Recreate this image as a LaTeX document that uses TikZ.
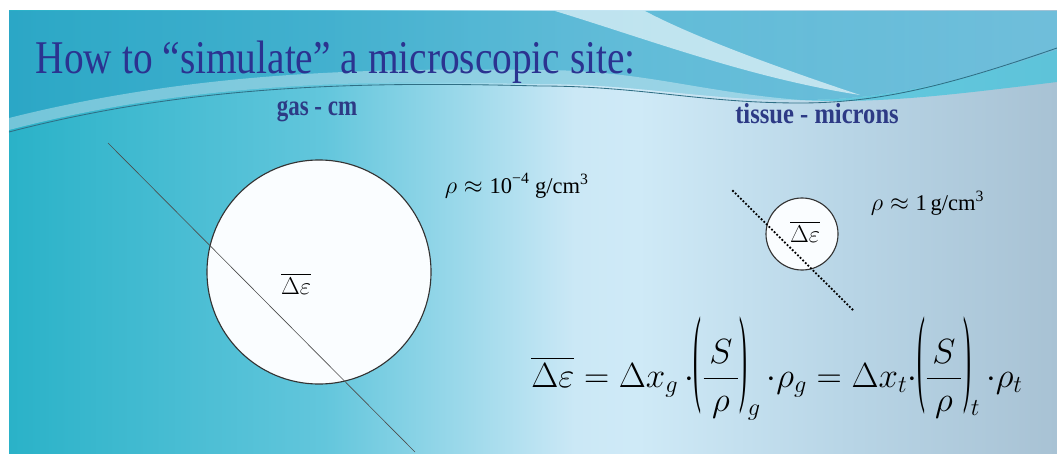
\documentclass[tikz,border=0pt]{standalone}
\usepackage{fontspec}
\usepackage{amsmath}
\setmainfont{Liberation Serif}
\usetikzlibrary{positioning}
\definecolor{titleblue}{HTML}{2B3390}
\definecolor{lblblue}{HTML}{2D3A85}
\definecolor{bgA}{HTML}{2AB2C8}
\definecolor{bgB}{HTML}{62C6DC}
\definecolor{bgC}{HTML}{CBE8F6}
\definecolor{bgD}{HTML}{CFEAF7}
\definecolor{bgE}{HTML}{B8D5E6}
\definecolor{bgF}{HTML}{A8C2D4}
\definecolor{topL}{HTML}{2CA6C6}
\definecolor{topR}{HTML}{66BEDC}
\definecolor{swcyan}{HTML}{3FC4DC}
\definecolor{swline}{HTML}{2F6F85}
\pgfdeclarehorizontalshading{slidebg}{100bp}{color(0bp)=(bgA); color(25bp)=(bgA);
  color(40bp)=(bgB); color(52bp)=(bgC); color(55bp)=(bgD); color(65bp)=(bgE);
  color(75bp)=(bgF); color(100bp)=(bgF)}
\newcommand{\dEps}{\overline{\Delta\varepsilon}}
\newcommand{\tparen}[1]{\raisebox{-0.14em}{\scalebox{0.7}[3.2]{#1}}}
\tikzset{
  site/.style={circle, draw=black!80, fill=white!98!cyan, inner sep=0pt, line width=0.8pt},
  lbl/.style={font=\bfseries\fontsize{19}{22}\selectfont, text=lblblue, xscale=0.86, yscale=1.08},
  dens/.style={font=\fontsize{16}{19}\selectfont, anchor=base west}
}
\begin{document}
\begin{tikzpicture}[x=0.025cm, y=-0.025cm]
  \useasboundingbox (0,0) rectangle (1057,453);
  % slide background
  \shade[shading=slidebg] (9,11) rectangle (1057,453);
  \shade[left color=topL, right color=topR, opacity=0.85]
    (9,11) -- (1057,11) -- (1057,50) .. controls (950,85) and (880,100) .. (800,100)
    .. controls (700,100) and (640,84) .. (540,84) .. controls (380,80) and (200,80) .. (9,130) -- cycle;
  \fill[white, opacity=0.35] (9,130) .. controls (200,80) and (380,80) .. (540,84)
    .. controls (640,84) and (700,100) .. (800,100) .. controls (700,92) and (640,70) .. (540,70)
    .. controls (380,68) and (200,70) .. (9,118) -- cycle;
  \fill[white, opacity=0.6] (555,11) .. controls (650,40) and (750,78) .. (860,95)
    .. controls (770,65) and (690,35) .. (645,11) -- cycle;
  \fill[swcyan, opacity=0.7] (800,100) .. controls (880,100) and (950,85) .. (1057,50)
    -- (1057,82) .. controls (950,95) and (880,104) .. (800,100) -- cycle;
  \draw[swline, line width=0.6pt] (9,132) .. controls (200,82) and (380,82) .. (540,86)
    .. controls (640,86) and (700,103) .. (800,103) .. controls (880,103) and (950,85) .. (1057,48);
  % title and labels
  \node[anchor=base west, text=titleblue, font=\fontsize{29}{34}\selectfont, xscale=0.965, yscale=1.15] (title) at (31,74)
    {How to “simulate” a microscopic site:};
  \node[lbl, anchor=base] (gasLbl) at (317,115) {gas - cm};
  \node[lbl, anchor=base, xscale=1.07] (tisLbl) at (817,123) {tissue - microns};
  % gas site
  \node[site, minimum size=5.6cm] (gasCirc) at (319,272) {};
  \coordinate (gA) at (108,143);
  \coordinate (gB) at (415,452);
  \draw[black!70, line width=0.45pt] (gA) -- (gB);
  \node[font=\fontsize{17}{20}\selectfont, anchor=base] (gasEps) at (296,294) {$\dEps$};
  \node[dens] (gasRho) at (440,193) {$\rho\approx\text{10}^{\text{−4}}\ \text{g/cm}^{\text{3}}$};
  % tissue site
  \node[site, minimum size=1.8cm] (tisCirc) at (802,234) {};
  \coordinate (tA) at (733,191);
  \coordinate (tB) at (853,310);
  \draw[black, line width=1.8pt, line cap=round, dash pattern=on 0pt off 2.6pt] (tA) -- (tB);
  \node[font=\fontsize{16}{19}\selectfont, anchor=base] (tisEps) at (805,242) {$\dEps$};
  \node[dens] (tisRho) at (866,210) {$\rho\approx\text{1\,g/cm}^{\text{3}}$};
  % energy relation
  \node[anchor=base west, font=\fontsize{24}{28}\selectfont, inner sep=0pt] (relation) at (531,387)
    {$\dEps = \Delta x_{g}\,{\cdot}\tparen{(}\dfrac{\,S\,}{\rho}\tparen{)}_{g}\,{\cdot}\rho_{g}
      = \Delta x_{t}{\cdot}\tparen{(}\dfrac{\,S\,}{\rho}\tparen{)}_{t}\,{\cdot}\rho_{t}$};
\end{tikzpicture}
\end{document}
